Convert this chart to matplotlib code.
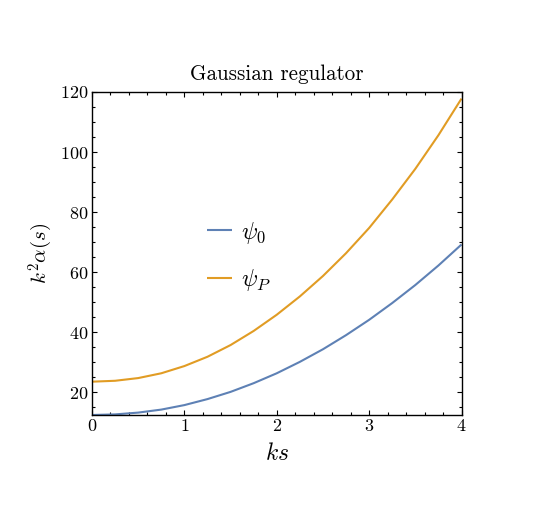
import matplotlib
matplotlib.use("Agg")
import matplotlib.pyplot as plt
from matplotlib.ticker import MultipleLocator

plt.rcParams['font.family'] = ['cmr10']
plt.rcParams['mathtext.fontset'] = 'cm'
plt.rcParams['axes.formatter.use_mathtext'] = True

ks = [0.0, 0.25, 0.5, 0.75, 1.0, 1.25, 1.5, 1.75, 2.0, 2.25, 2.5, 2.75, 3.0, 3.25, 3.5, 3.75, 4.0]
psi0 = [12.4, 12.6, 13.2, 14.2, 15.7, 17.7, 20.1, 23.0, 26.3, 30.1, 34.3, 39.0, 44.1, 49.7, 55.7, 62.2, 69.2]
psiP = [23.5, 23.8, 24.7, 26.3, 28.7, 31.8, 35.7, 40.4, 45.8, 51.9, 58.7, 66.3, 74.7, 84.2, 94.4, 105.6, 117.8]
labels = [r'$\psi_0$', r'$\psi_P$']
colors = ['#5E81B5', '#E19C24']
title = 'Gaussian regulator'
xlabel = r'$ks$'
ylabel = r'$k^2\alpha(s)$'

fig = plt.figure(figsize=(5.54, 5.08), dpi=100)
ax = fig.add_axes([92/554, 1-415/508, 369.5/554, 323/508])

for y, lab, c in zip([psi0, psiP], labels, colors):
    ax.plot(ks, y, color=c, lw=1.5, label=lab, solid_capstyle='butt',
            solid_joinstyle='round')

ax.set_xlim(0, 4)
ax.set_ylim(12.4, 120)
ax.xaxis.set_major_locator(MultipleLocator(1))
ax.xaxis.set_minor_locator(MultipleLocator(0.2))
ax.yaxis.set_major_locator(MultipleLocator(20))
ax.yaxis.set_minor_locator(MultipleLocator(5))
ax.tick_params(which='both', direction='in', top=True, right=True, labelsize=13, width=0.8)
ax.tick_params(which='major', length=3.5, pad=2.5)
ax.tick_params(which='minor', length=2)
for s in ax.spines.values():
    s.set_linewidth(1.0)

ax.set_title(title, fontsize=15.2, pad=9)
ax.set_xlabel(xlabel, fontsize=17, labelpad=6)
ax.set_ylabel(ylabel, fontsize=15, labelpad=4)

leg = ax.legend(loc='upper left', bbox_to_anchor=(0.311, 0.605), frameon=False,
                fontsize=17, handlelength=1.06, handletextpad=0.4, labelspacing=0.9,
                borderpad=0, borderaxespad=0)

fig.savefig('out.png', dpi=100)
